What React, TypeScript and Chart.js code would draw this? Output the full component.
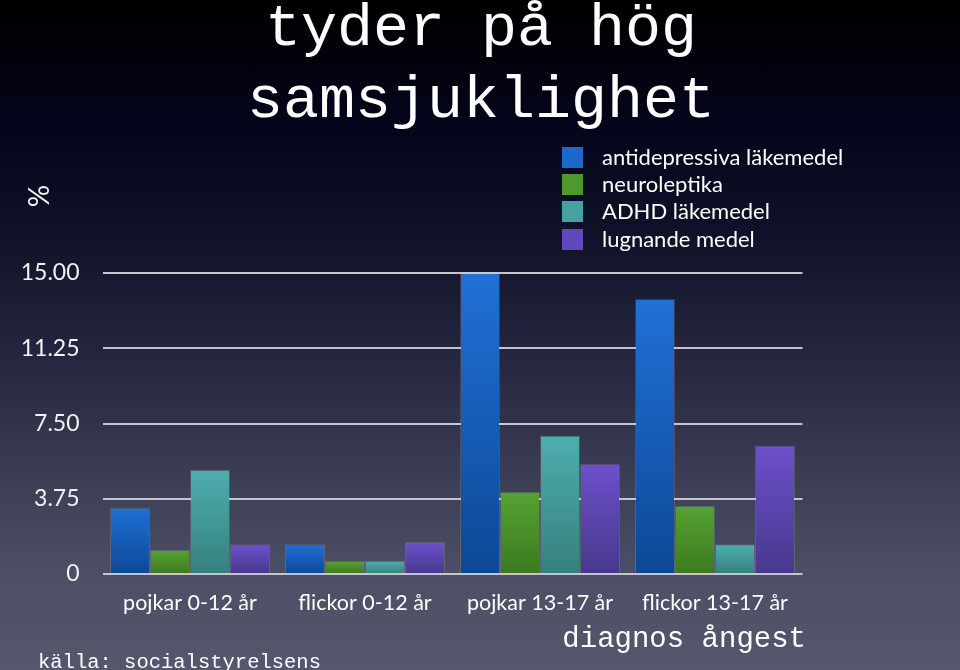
import React, { useEffect, useRef } from "react";
import { Chart, registerables } from "chart.js";

Chart.register(...registerables);

const categories = ["pojkar 0-12 år", "flickor 0-12 år", "pojkar 13-17 år", "flickor 13-17 år"];
const seriesNames = ["antidepressiva läkemedel", "neuroleptika", "ADHD läkemedel", "lugnande medel"];
const antidepressiva = [3.3, 1.48, 15.0, 13.7];
const neuroleptika = [1.2, 0.65, 4.1, 3.4];
const adhd = [5.2, 0.66, 6.9, 1.48];
const lugnande = [1.48, 1.6, 5.5, 6.4];
const tickValues = [0, 3.75, 7.5, 11.25, 15];
const titleLines = ["tyder på hög", "samsjuklighet"];
const yTitle = "%";
const subtitle = "diagnos ångest";
const sourceText = "källa: socialstyrelsens";

const colorsTop = ["#2070d6", "#55a232", "#4eaeae", "#6d50cc"];
const colorsBottom = ["#0c4896", "#3b7a20", "#35807f", "#48388c"];
const legendColors = ["#1c68cc", "#4d9a2c", "#46a2a2", "#6248c0"];

const SANS = "Lato, 'Open Sans', sans-serif";
const MONO = "'Liberation Mono', 'DejaVu Sans Mono', monospace";

export default function App() {
  const ref = useRef<HTMLCanvasElement | null>(null);

  useEffect(() => {
    const canvas = ref.current;
    if (!canvas) return;
    const allSeries = [antidepressiva, neuroleptika, adhd, lugnande];

    const textPlugin = {
      id: "texts",
      afterDraw(chart: any) {
        const ctx = chart.ctx;
        ctx.save();
        ctx.fillStyle = "#ffffff";
        ctx.textAlign = "center";
        ctx.textBaseline = "alphabetic";
        ctx.font = `60px ${MONO}`;
        ctx.fillText(titleLines[0], 481, 45);
        ctx.fillText(titleLines[1], 481, 117);

        // y-axis title
        ctx.save();
        ctx.translate(40, 196);
        ctx.rotate(-Math.PI / 2);
        ctx.font = `28px ${SANS}`;
        ctx.textBaseline = "middle";
        ctx.fillStyle = "#f2f2f2";
        ctx.fillText(yTitle, 0, 0);
        ctx.restore();

        // legend
        const rows = [158, 185, 212, 240];
        ctx.textAlign = "left";
        ctx.textBaseline = "middle";
        ctx.font = `22px ${SANS}`;
        chart.data.datasets.forEach((ds: any, i: number) => {
          const y = rows[i];
          ctx.fillStyle = legendColors[i];
          ctx.fillRect(562, y - 11, 21, 21);
          ctx.fillStyle = "#ffffff";
          ctx.fillText(ds.label, 602, y);
        });

        ctx.textAlign = "right";
        ctx.textBaseline = "alphabetic";
        ctx.font = `29px ${MONO}`;
        ctx.fillText(subtitle, 806, 647);
        ctx.textAlign = "left";
        ctx.font = `20.5px ${MONO}`;
        ctx.fillText(sourceText, 38, 668);
        ctx.restore();
      },
    };

    const makeBg = (i: number) => (c: any) => {
      const chart = c.chart;
      const area = chart.chartArea;
      if (!area || c.raw === undefined) return colorsTop[i];
      const yScale = chart.scales.y;
      const top = yScale.getPixelForValue(c.raw);
      const bottom = yScale.getPixelForValue(0);
      if (!isFinite(top) || bottom - top < 1) return colorsTop[i];
      const g = chart.ctx.createLinearGradient(0, top, 0, bottom);
      g.addColorStop(0, colorsTop[i]);
      g.addColorStop(1, colorsBottom[i]);
      return g;
    };

    const chart = new Chart(canvas, {
      type: "bar",
      data: {
        labels: categories,
        datasets: allSeries.map((d, i) => ({
          label: seriesNames[i],
          data: d,
          backgroundColor: makeBg(i),
          borderColor: "rgba(255,255,255,0.12)",
          borderWidth: 1,
          categoryPercentage: 160 / 175,
          barPercentage: 1,
        })),
      },
      options: {
        animation: false,
        responsive: false,
        maintainAspectRatio: false,
        layout: { padding: { top: 273, right: 157.5, left: 0, bottom: 0 } },
        plugins: {
          legend: { display: false },
          tooltip: { enabled: false },
          title: { display: false },
        },
        scales: {
          x: {
            grid: { display: false, drawTicks: false },
            border: { display: false },
            ticks: {
              color: "#ffffff",
              font: { family: SANS, size: 21.5 },
              padding: 16,
              maxRotation: 0,
              autoSkip: false,
            },
            afterFit: (s: any) => {
              s.height = 96;
            },
          },
          y: {
            min: 0,
            max: 15,
            afterBuildTicks: (s: any) => {
              s.ticks = tickValues.map((v) => ({ value: v }));
            },
            grid: { color: "#c4c4cc", lineWidth: 2, drawTicks: false },
            border: { display: false },
            ticks: {
              color: "#f2f2f2",
              font: { family: SANS, size: 23 },
              padding: 23,
              callback: (v: any) => (Number(v) === 0 ? "0" : Number(v).toFixed(2)),
            },
            afterFit: (s: any) => {
              s.width = 102.5;
            },
          },
        },
      },
      plugins: [textPlugin],
    });
    return () => chart.destroy();
  }, []);

  return (
    <div
      style={{
        position: "fixed",
        left: 0,
        top: 0,
        width: 960,
        height: 670,
        background:
          "linear-gradient(to bottom, #000000 0%, #03041a 18%, #101229 35%, #23253e 52%, #3a3c53 70%, #4b4e64 85%, #55586d 100%)",
      }}
    >
      <canvas ref={ref} width={960} height={670} style={{ display: "block" }} />
    </div>
  );
}
